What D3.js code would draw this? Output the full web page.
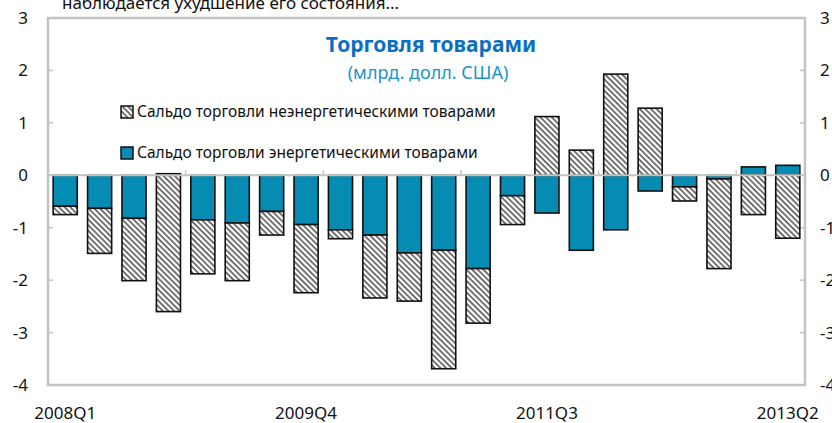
<!DOCTYPE html>
<html lang="ru">
<head>
    <meta charset="UTF-8">
    <title>Торговля товарами</title>
    <script src="https://cdnjs.cloudflare.com/ajax/libs/d3/7.8.5/d3.min.js"></script>
    <style>
        body { margin: 0; background: #fff; }
        svg { display: block; font-family: "Noto Sans", "Open Sans", sans-serif; }
    </style>
</head>
<body>
<svg id="chart" width="832" height="423"></svg>
<script>
    // Quarters 2008Q1 .. 2013Q2
    const quarters = [
        "2008Q1", "2008Q2", "2008Q3", "2008Q4",
        "2009Q1", "2009Q2", "2009Q3", "2009Q4",
        "2010Q1", "2010Q2", "2010Q3", "2010Q4",
        "2011Q1", "2011Q2", "2011Q3", "2011Q4",
        "2012Q1", "2012Q2", "2012Q3", "2012Q4",
        "2013Q1", "2013Q2"
    ];
    // balance of trade in energy goods
    const energy = [-0.59, -0.63, -0.82, 0.03, -0.85, -0.91, -0.69, -0.94, -1.04, -1.14, -1.48,
                    -1.43, -1.78, -0.39, -0.72, -1.43, -1.04, -0.30, -0.22, -0.07, 0.16, 0.19];
    // balance of trade in non-energy goods
    const nonEnergy = [-0.16, -0.86, -1.19, -2.60, -1.03, -1.10, -0.45, -1.30, -0.17, -1.20, -0.92,
                       -2.26, -1.04, -0.55, 1.12, 0.48, 1.93, 1.28, -0.27, -1.71, -0.75, -1.20];
    const tickLabels = ["2008Q1", "2009Q4", "2011Q3", "2013Q2"];
    const yTicks = [3, 2, 1, 0, -1, -2, -3, -4];
    const seriesNames = ["Сальдо торговли неэнергетическими товарами", "Сальдо торговли энергетическими товарами"];

    const svg = d3.select("#chart");
    const mLeft = 48, mRight = 805, mTop = 18, mBottom = 385;
    const teal = "#068bb2";
    const grey = "#c3c3c3";

    // hatch pattern for the non-energy series (stripes running top-left to bottom-right)
    const defs = svg.append("defs");
    const pat = defs.append("pattern")
        .attr("id", "hatch")
        .attr("patternUnits", "userSpaceOnUse")
        .attr("width", 4).attr("height", 4)
        .attr("patternTransform", "rotate(45)");
    pat.append("rect").attr("width", 4).attr("height", 4).attr("fill", "#fff");
    pat.append("rect").attr("width", 4).attr("height", 1.5).attr("fill", "#4a4a4a");

    const x = d3.scaleBand().domain(quarters).range([mLeft, mRight]).paddingInner(0.3).paddingOuter(0.15);
    const y = d3.scaleLinear().domain([-4, 3]).range([mBottom, mTop]);

    // top cut-off text
    svg.append("text")
        .attr("x", 62).attr("y", 9)
        .attr("font-size", 17).attr("fill", "#111")
        .text("наблюдается ухудшение его состояния...");

    // frame
    svg.append("rect")
        .attr("x", mLeft).attr("y", mTop)
        .attr("width", mRight - mLeft).attr("height", mBottom - mTop)
        .attr("fill", "none").attr("stroke", grey).attr("stroke-width", 2.5);

    // y ticks on both sides
    svg.append("g").selectAll("line").data(yTicks).join("line")
        .attr("x1", mLeft).attr("x2", mLeft + 5)
        .attr("y1", d => y(d)).attr("y2", d => y(d))
        .attr("stroke", grey).attr("stroke-width", 1.5);
    svg.append("g").selectAll("line").data(yTicks).join("line")
        .attr("x1", mRight - 5).attr("x2", mRight)
        .attr("y1", d => y(d)).attr("y2", d => y(d))
        .attr("stroke", grey).attr("stroke-width", 1.5);

    svg.append("g").selectAll("text").data(yTicks).join("text")
        .attr("x", 28).attr("y", d => y(d)).attr("dy", "0.35em")
        .attr("text-anchor", "end").attr("font-size", 17).attr("fill", "#111")
        .text(d => d);
    svg.append("g").selectAll("text").data(yTicks).join("text")
        .attr("x", 820).attr("y", d => y(d)).attr("dy", "0.35em")
        .attr("font-size", 17).attr("fill", "#111")
        .text(d => d);

    // title
    svg.append("text")
        .attr("x", 431).attr("y", 52).attr("text-anchor", "middle")
        .attr("font-size", 21).attr("font-weight", "bold").attr("fill", "#0a6fc2")
        .text("Торговля товарами");
    svg.append("text")
        .attr("x", 428).attr("y", 79).attr("text-anchor", "middle")
        .attr("font-size", 18).attr("fill", "#1b94c9")
        .text("(млрд. долл. США)");

    // stacked bars: energy starts at zero, non-energy stacks on top in same direction
    const rows = quarters.map((q, i) => {
        const e = energy[i], n = nonEnergy[i];
        const nBase = (n < 0 && e < 0) || (n > 0 && e > 0) ? e : 0;
        return { q, e, n, nBase };
    });

    const bars = svg.append("g");
    bars.selectAll("rect.en").data(rows).join("rect")
        .attr("class", "en")
        .attr("x", d => x(d.q)).attr("width", x.bandwidth())
        .attr("y", d => y(Math.max(0, d.e)))
        .attr("height", d => Math.abs(y(d.e) - y(0)))
        .attr("fill", teal).attr("stroke", "#111").attr("stroke-width", 1.6);
    bars.selectAll("rect.ne").data(rows).join("rect")
        .attr("class", "ne")
        .attr("x", d => x(d.q)).attr("width", x.bandwidth())
        .attr("y", d => y(Math.max(d.nBase, d.nBase + d.n)))
        .attr("height", d => Math.abs(y(d.nBase + d.n) - y(d.nBase)))
        .attr("fill", "url(#hatch)").attr("stroke", "#111").attr("stroke-width", 1.6);

    // zero line with ticks every 4 quarters
    const step = x.step();
    svg.append("line")
        .attr("x1", mLeft).attr("x2", mRight).attr("y1", y(0)).attr("y2", y(0))
        .attr("stroke", grey).attr("stroke-width", 2);
    svg.append("g").selectAll("line").data(d3.range(4, quarters.length, 4)).join("line")
        .attr("x1", i => mLeft + i * step).attr("x2", i => mLeft + i * step)
        .attr("y1", y(0)).attr("y2", y(0) - 5)
        .attr("stroke", grey).attr("stroke-width", 1.5);

    // category labels
    svg.append("g").selectAll("text").data(tickLabels).join("text")
        .attr("x", d => x(d) + x.bandwidth() / 2).attr("y", 419)
        .attr("text-anchor", "middle").attr("font-size", 17).attr("fill", "#111")
        .text(d => d);

    // legend
    const legend = svg.append("g");
    const fills = ["url(#hatch)", teal];
    seriesNames.forEach((name, i) => {
        const ly = 112 + i * 41;
        legend.append("rect")
            .attr("x", 121).attr("y", ly - 6).attr("width", 12).attr("height", 12)
            .attr("fill", fills[i]).attr("stroke", "#111").attr("stroke-width", 1.5);
        legend.append("text")
            .attr("x", 137).attr("y", ly).attr("dy", "0.35em")
            .attr("font-size", 15.5).attr("fill", "#111")
            .text(name);
    });
</script>
</body>
</html>
